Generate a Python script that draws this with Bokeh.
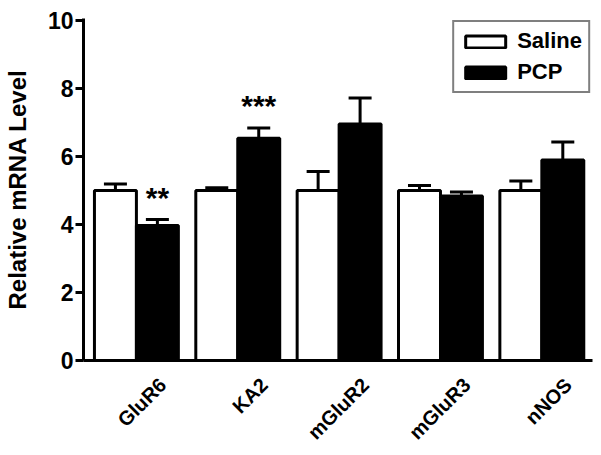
from bokeh.plotting import figure
from bokeh.models import (ColumnDataSource, Range1d, FixedTicker, Whisker, TeeHead,
                          Legend, LegendItem)
from bokeh.core.properties import value
from bokeh.embed import file_html
from bokeh.resources import INLINE
import math

# ---- data ----
genes = ["GluR6", "KA2", "mGluR2", "mGluR3", "nNOS"]
saline = [5.0, 5.0, 5.0, 5.0, 5.0]
saline_err = [0.19, 0.08, 0.56, 0.15, 0.28]
pcp = [3.97, 6.54, 6.96, 4.84, 5.90]
pcp_err = [0.18, 0.30, 0.76, 0.12, 0.53]
stars = ["**", "***", "", "", ""]
y_ticks = [0, 2, 4, 6, 8, 10]

FONT = "Liberation Sans"
BW = 0.414          # bar width (data units)
LABEL_SHIFT = 0.26  # rotated category labels sit slightly right of group centre
pos = list(range(len(genes)))

p = figure(width=600, height=454, output_backend="svg", toolbar_location=None,
           x_range=Range1d(-0.522, 4.5), y_range=Range1d(0, 10.06),
           min_border_left=82, min_border_right=8, min_border_top=18,
           min_border_bottom=94)
p.outline_line_color = None
p.grid.visible = False

src_s = ColumnDataSource(dict(x=[i - BW / 2 for i in pos], top=saline,
                              up=[v + e for v, e in zip(saline, saline_err)]))
src_p = ColumnDataSource(dict(x=[i + BW / 2 for i in pos], top=pcp,
                              up=[v + e for v, e in zip(pcp, pcp_err)], s=stars))

r_s = p.vbar(x="x", top="top", width=BW, bottom=0, source=src_s,
             fill_color="white", line_color="black", line_width=3)
r_p = p.vbar(x="x", top="top", width=BW, bottom=0, source=src_p,
             fill_color="black", line_color="black", line_width=3)

for src in (src_s, src_p):
    w = Whisker(base="x", lower="top", upper="up", source=src, dimension="height",
                line_width=3, line_color="black", lower_head=None,
                upper_head=TeeHead(size=23, line_width=3, line_color="black"))
    p.add_layout(w)

p.text(x="x", y="up", text="s", source=src_p, text_align="center",
       text_baseline="alphabetic", y_offset=-22, text_font=value(FONT),
       text_font_style="bold", text_font_size="30px", text_color="black")

# axes
p.yaxis.ticker = FixedTicker(ticks=y_ticks)
p.yaxis.axis_line_width = 3
p.yaxis.major_tick_line_width = 3
p.yaxis.major_tick_out = 8
p.yaxis.major_tick_in = 0
p.yaxis.minor_tick_line_color = None
p.yaxis.major_label_text_font = FONT
p.yaxis.major_label_text_font_style = "bold"
p.yaxis.major_label_text_font_size = "23px"
p.yaxis.major_label_text_color = "black"
p.yaxis.major_label_standoff = 2
p.yaxis.axis_label = "Relative mRNA Level"
p.yaxis.axis_label_text_font = FONT
p.yaxis.axis_label_text_font_style = "bold"
p.yaxis.axis_label_text_font_size = "24px"
p.yaxis.axis_label_text_color = "black"
p.yaxis.axis_label_standoff = 14

label_ticks = [i + LABEL_SHIFT for i in pos]
p.xaxis.ticker = FixedTicker(ticks=label_ticks)
p.xaxis.major_label_overrides = {t: g for t, g in zip(label_ticks, genes)}
p.xaxis.axis_line_width = 3
p.xaxis.major_tick_line_color = None
p.xaxis.minor_tick_line_color = None
p.xaxis.major_label_orientation = math.pi / 4
p.xaxis.major_label_text_font = FONT
p.xaxis.major_label_text_font_style = "bold"
p.xaxis.major_label_text_font_size = "20px"
p.xaxis.major_label_text_color = "black"
p.xaxis.major_label_standoff = 15

legend = Legend(items=[LegendItem(label="Saline", renderers=[r_s]),
                       LegendItem(label="PCP", renderers=[r_p])],
                location="top_right", margin=2,
                border_line_color="black", border_line_width=2,
                background_fill_color="white", background_fill_alpha=1,
                label_text_font=FONT, label_text_font_style="bold",
                label_text_font_size="22px", label_text_color="black",
                glyph_width=50, glyph_height=15, label_standoff=7,
                padding=6, spacing=5)
p.add_layout(legend)

open("out.html", "w").write(file_html(p, INLINE))
